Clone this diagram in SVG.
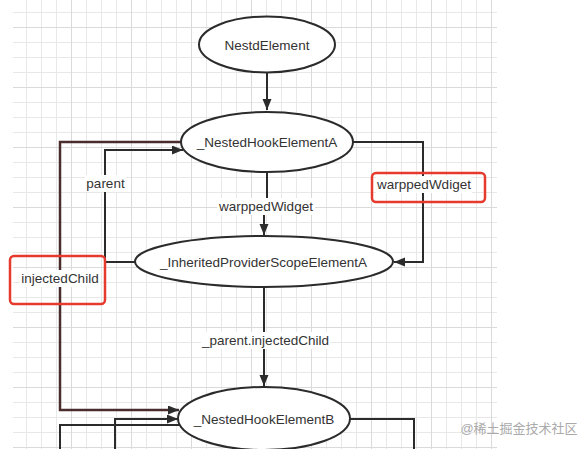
<svg xmlns="http://www.w3.org/2000/svg" width="588" height="449" viewBox="0 0 588 449">
<style>
.node{fill:#fff;stroke:#2b2b2b;stroke-width:2}
.txt{font-family:"Liberation Sans",Arial,sans-serif;font-size:13.5px;fill:#333;text-anchor:middle;dominant-baseline:central}
.edge{fill:none;stroke:#2b2b2b;stroke-width:2}
.edge2{fill:none;stroke:#4a2c2c;stroke-width:2.5}
.lblbg{fill:#fff}
.hl{fill:none;stroke:#e63a2e;stroke-width:2.5}
</style>
<defs>
<pattern id="minor" patternUnits="userSpaceOnUse" x="26" y="12" width="15" height="15">
<path d="M0.5 0V15M0 0.5H15" stroke="#e8e8e8" stroke-width="1" fill="none"/>
</pattern>
<pattern id="major" patternUnits="userSpaceOnUse" x="11" y="27" width="60" height="60">
<path d="M0.5 0V60M0 0.5H60" stroke="#dadada" stroke-width="1" fill="none"/>
</pattern>
<marker id="arr" markerUnits="userSpaceOnUse" markerWidth="12" markerHeight="10" refX="11" refY="4.5" orient="auto">
<path d="M0,0 L11,4.5 L0,9 z" fill="#2b2b2b"/>
</marker>
</defs>
<rect width="588" height="449" fill="#fff"/>
<rect x="13" y="0" width="484" height="449" fill="url(#minor)"/>
<rect x="13" y="0" width="484" height="449" fill="url(#major)"/>

<g id="connectors">
<path class="edge" d="M267 73V110" marker-end="url(#arr)"/>
<path class="edge" d="M267 172V206H264V235" marker-end="url(#arr)"/>
<path class="edge" d="M353 142H423V262H394" marker-end="url(#arr)"/>
<path class="edge" d="M135 262H105V150H183" marker-end="url(#arr)"/>
<path class="edge2" d="M182 142H60V410H179" marker-end="url(#arr)"/>
<path class="edge" d="M264 287V386" marker-end="url(#arr)"/>
<path class="edge" d="M115 449V419H178" marker-end="url(#arr)"/>
<path class="edge" d="M180 425H60V449"/>
<path class="edge" d="M350 419H414V449"/>
</g>

<g id="edge-labels">
<rect class="lblbg" x="217" y="198" width="98" height="17"/>
<text class="txt" x="266" y="206.5">warppedWidget</text>
<rect class="lblbg" x="85" y="175" width="41" height="17"/>
<text class="txt" x="105.5" y="183.5">parent</text>
<rect class="lblbg" x="20" y="270" width="80" height="17"/>
<text class="txt" x="60" y="278.5">injectedChild</text>
<rect class="lblbg" x="201" y="332" width="129" height="17"/>
<text class="txt" x="265.5" y="340">_parent.injectedChild</text>
<rect class="lblbg" x="376" y="176" width="96" height="17"/>
<text class="txt" x="424" y="184">warppedWdiget</text>
</g>

<g id="highlights">
<rect class="hl" x="10" y="256" width="95" height="48" rx="4"/>
<rect class="hl" x="372" y="173" width="113" height="29" rx="4"/>
</g>

<g id="NestdElement">
<ellipse class="node" cx="267" cy="44.5" rx="68" ry="28"/>
<text class="txt" x="267" y="45">NestdElement</text>
</g>
<g id="NestedHookElementA">
<ellipse class="node" cx="267" cy="142" rx="86" ry="30"/>
<text class="txt" x="267" y="142.5">_NestedHookElementA</text>
</g>
<g id="InheritedProviderScopeElementA">
<ellipse class="node" cx="264" cy="261.5" rx="129" ry="25.5"/>
<text class="txt" x="263.5" y="262">_InheritedProviderScopeElementA</text>
</g>
<g id="NestedHookElementB">
<ellipse class="node" cx="264" cy="418.5" rx="86" ry="31.5"/>
<text class="txt" x="264" y="419.5">_NestedHookElementB</text>
</g>

<text x="519" y="428" font-family="'Liberation Sans','Noto Sans CJK SC',sans-serif" font-size="13px" fill="#aaaaaa" text-anchor="middle" dominant-baseline="central">@稀土掘金技术社区</text>
</svg>
